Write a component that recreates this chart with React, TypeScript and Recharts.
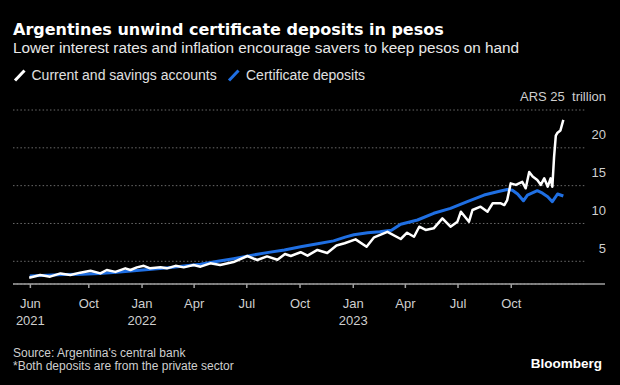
import React from "react";
import { LineChart, Line, XAxis, YAxis, CartesianGrid } from "recharts";

// Current and savings accounts (ARS trillion)
const savDates = [
  "2021-06-20","2021-07-09","2021-07-26","2021-08-13","2021-08-30","2021-09-16","2021-10-04","2021-10-21",
  "2021-11-01","2021-11-16","2021-12-03","2021-12-12","2021-12-23","2022-01-04","2022-01-15","2022-02-02",
  "2022-02-13","2022-02-28","2022-03-14","2022-03-31","2022-04-12","2022-04-29","2022-05-16","2022-06-08",
  "2022-07-02","2022-07-19","2022-08-05","2022-08-23","2022-09-05","2022-09-15","2022-10-02","2022-10-14",
  "2022-10-31","2022-11-17","2022-12-03","2022-12-17","2023-01-05","2023-01-24","2023-02-06","2023-03-01",
  "2023-03-24","2023-04-04","2023-04-16","2023-04-25","2023-05-06","2023-05-20","2023-06-04","2023-06-18",
  "2023-06-30","2023-07-06","2023-07-20","2023-07-26","2023-08-09","2023-08-21","2023-08-30","2023-09-13",
  "2023-09-19","2023-09-24","2023-09-30","2023-10-09","2023-10-20","2023-10-26","2023-11-01","2023-11-07",
  "2023-11-15","2023-11-21","2023-11-27","2023-12-03","2023-12-08","2023-12-11","2023-12-14","2023-12-17",
  "2023-12-20","2023-12-25","2023-12-30",
];
const savValues = [
  2.83, 3.19, 2.97, 3.4, 3.2, 3.5, 3.75, 3.4,
  3.85, 3.6, 4.07, 3.85, 4.2, 4.4, 4.07, 4.2,
  4.07, 4.4, 4.2, 4.5, 4.29, 4.73, 4.5, 4.9,
  5.7, 5.17, 5.65, 5.2, 5.97, 5.7, 6.2, 5.75,
  6.5, 6.1, 7.1, 7.38, 7.9, 6.93, 8.17, 8.9,
  7.95, 8.78, 8.25, 9.57, 9.14, 9.36, 10.68, 9.57,
  10.24, 11.56, 10.24, 11.78, 12.22, 11.56, 12.67, 12.67,
  12.44, 13.1, 15.3, 15.1, 15.5, 14.65, 16.8, 16.2,
  15.75, 15.1, 15.97, 14.86, 15.97, 14.86, 18.8, 21.6,
  22.0, 22.3, 23.7,
];

// Certificate deposits (ARS trillion)
const cdDates = [
  "2021-06-21","2021-07-21","2021-08-20","2021-09-19","2021-10-19","2021-11-18","2021-12-18","2022-01-17",
  "2022-02-16","2022-03-18","2022-04-12","2022-05-12","2022-06-08","2022-07-06","2022-08-05","2022-09-04",
  "2022-10-02","2022-10-29","2022-11-28","2022-12-18","2023-01-02","2023-01-26","2023-02-16","2023-03-08",
  "2023-03-24","2023-04-22","2023-05-20","2023-06-18","2023-07-17","2023-08-15","2023-09-07","2023-09-24",
  "2023-10-03","2023-10-12","2023-10-22","2023-10-29","2023-11-15","2023-11-24","2023-12-03","2023-12-11",
  "2023-12-20","2023-12-30",
];
const cdValues = [
  3.05, 3.15, 3.25, 3.3, 3.4, 3.55, 3.75, 3.95,
  4.15, 4.4, 4.6, 5.0, 5.35, 5.75, 6.15, 6.5,
  6.93, 7.3, 7.7, 8.2, 8.5, 8.78, 8.9, 9.1,
  9.9, 10.46, 11.35, 12.0, 12.88, 13.76, 14.2, 14.5,
  14.4, 13.9, 13.0, 13.76, 14.33, 14.0, 13.54, 12.88,
  13.9, 13.63,
];

const tickDates = ["2021-06-22","2021-10-01","2022-01-01","2022-04-01","2022-07-01","2022-10-01","2023-01-01","2023-04-01","2023-07-01","2023-10-01"];
const tickMonths = ["Jun","Oct","Jan","Apr","Jul","Oct","Jan","Apr","Jul","Oct"];
const tickYears = ["2021","","2022","","","","2023","","",""];
const yTicks = [5, 10, 15, 20, 25];
const axisStart = "2021-05-23";
const axisEnd = "2024-03-11";

const BASE = Date.UTC(2021, 5, 1);
const toDay = (s: string) => {
  const [y, m, d] = s.split("-").map(Number);
  return (Date.UTC(y, m - 1, d) - BASE) / 86400000;
};

const savData = savDates.map((d, i) => ({ t: toDay(d), v: savValues[i] }));
const cdData = cdDates.map((d, i) => ({ t: toDay(d), v: cdValues[i] }));
const xTicks = tickDates.map(toDay);

const SANS = "'Liberation Sans', Arial, sans-serif";

const XTick = (props: any) => {
  const { x, y, index } = props;
  return (
    <g>
      <text x={x} y={y + 17.5} textAnchor="middle" fill="#cfcfcf" fontSize={13} fontFamily={SANS}>
        {tickMonths[index]}
      </text>
      {tickYears[index] ? (
        <text x={x} y={y + 35} textAnchor="middle" fill="#cfcfcf" fontSize={13} fontFamily={SANS}>
          {tickYears[index]}
        </text>
      ) : null}
    </g>
  );
};

const YTick = (props: any) => {
  const { y, payload } = props;
  const label = payload.value === 25 ? "ARS 25  trillion" : String(payload.value);
  return (
    <text x={606} y={y - 8.7} textAnchor="end" fill="#cfcfcf" fontSize={13} fontFamily={SANS} style={{ whiteSpace: "pre" }}>
      {label}
    </text>
  );
};

const GridLine = (props: any) => {
  const { x1, x2, y1, y2 } = props;
  return <line x1={x1} x2={x2 - 20} y1={y1} y2={y2} stroke="#6a6a6a" strokeWidth={1} strokeDasharray="1.5 2.2" />;
};

export default function App() {
  return (
    <div style={{ position: "absolute", left: 0, top: 0, width: 620, height: 385, background: "#000", overflow: "hidden" }}>
      <LineChart width={620} height={385} margin={{ top: 110, right: 5, left: 13, bottom: 61 }}>
        <CartesianGrid vertical={false} horizontal={GridLine as any} />
        <XAxis
          type="number"
          dataKey="t"
          domain={[toDay(axisStart), toDay(axisEnd)]}
          ticks={xTicks}
          interval={0}
          height={40}
          axisLine={{ stroke: "#a0a0a0", strokeWidth: 1.5 }}
          tickLine={{ stroke: "#a0a0a0", strokeWidth: 1.5 }}
          tickSize={4}
          tick={XTick}
          allowDataOverflow
        />
        <YAxis
          orientation="right"
          width={10}
          domain={[2, 25]}
          ticks={yTicks}
          interval={0}
          axisLine={false}
          tickLine={false}
          tick={YTick}
          allowDataOverflow
        />
        <Line data={cdData} dataKey="v" type="linear" stroke="#1f6fe3" strokeWidth={3} dot={false} isAnimationActive={false} strokeLinejoin="round" />
        <Line data={savData} dataKey="v" type="linear" stroke="#ffffff" strokeWidth={2.5} dot={false} isAnimationActive={false} strokeLinejoin="round" />
      </LineChart>
      <svg width={620} height={385} style={{ position: "absolute", left: 0, top: 0, pointerEvents: "none" }}>
        <text x={13} y={35} fill="#ffffff" fontSize={16} fontWeight="bold" fontFamily="'DejaVu Sans', sans-serif">
          Argentines unwind certificate deposits in pesos
        </text>
        <text x={13} y={53.3} fill="#e8e8e8" fontSize={15.3} fontFamily={SANS}>
          Lower interest rates and inflation encourage savers to keep pesos on hand
        </text>
        <line x1={15} y1={80.5} x2={24.5} y2={70.5} stroke="#ffffff" strokeWidth={3} />
        <text x={31.5} y={80} fill="#e0e0e0" fontSize={14} fontFamily={SANS}>
          Current and savings accounts
        </text>
        <line x1={229} y1={80.5} x2={238.5} y2={70.5} stroke="#1f6fe3" strokeWidth={3} />
        <text x={246} y={80} fill="#e0e0e0" fontSize={14} fontFamily={SANS}>
          Certificate deposits
        </text>
        <text x={13} y={357} fill="#cfcfcf" fontSize={12} fontFamily={SANS}>
          Source: Argentina's central bank
        </text>
        <text x={13} y={370} fill="#cfcfcf" fontSize={12} fontFamily={SANS}>
          *Both deposits are from the private sector
        </text>
        <text x={602} y={367.5} textAnchor="end" fill="#ffffff" fontSize={13.5} fontWeight="bold" fontFamily={SANS}>
          Bloomberg
        </text>
      </svg>
    </div>
  );
}
